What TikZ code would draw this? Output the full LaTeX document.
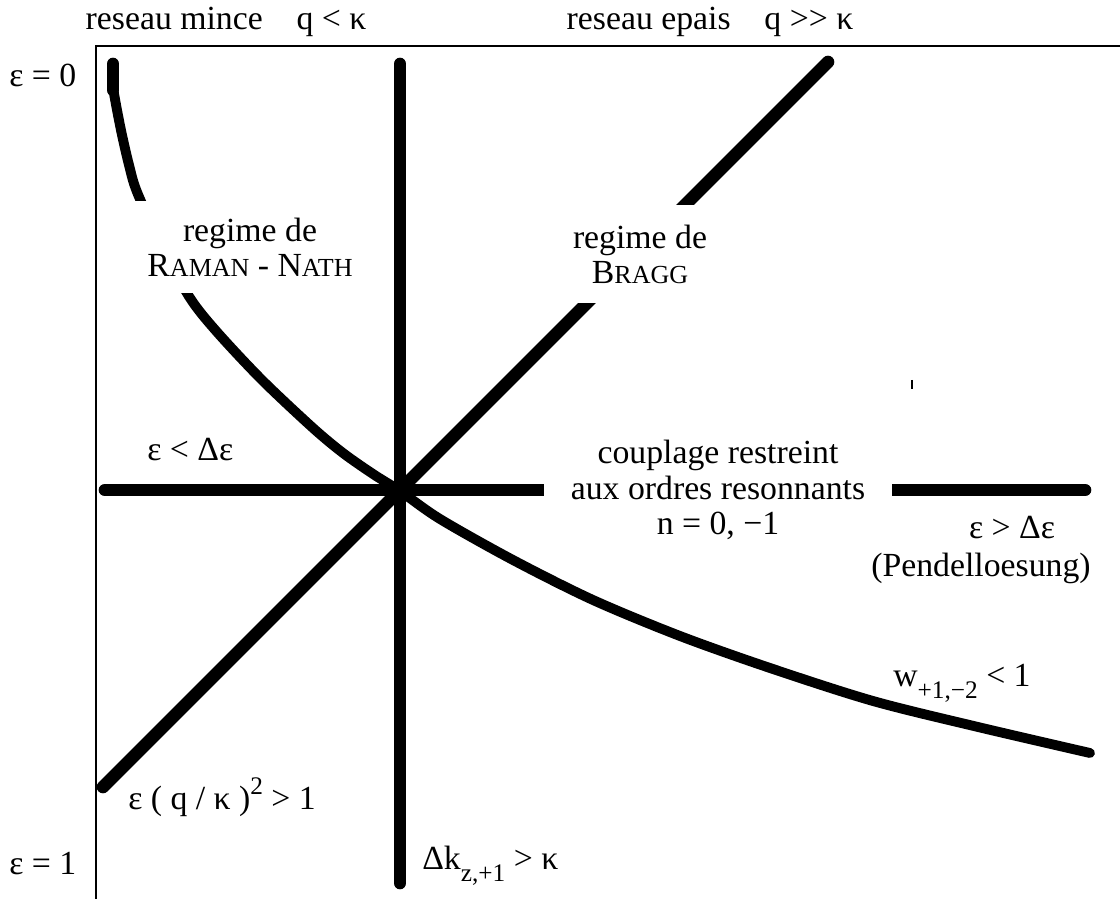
\documentclass[tikz,border=0pt]{standalone}
\usepackage{fontspec}
\setmainfont{Liberation Serif}
\usepackage{tikz}
\usetikzlibrary{positioning}
\tikzset{
  frameline/.style={line width=1.4pt},
  bound/.style={line width=9pt, line cap=round},
  curveline/.style={line width=7pt, line cap=round, line join=round},
  regimebox/.style={fill=white, align=center, inner xsep=18pt, inner ysep=12pt},
  couplebox/.style={fill=white, align=center, inner xsep=19pt, inner ysep=3pt},
  lbl/.style={inner sep=0pt, anchor=west},
  toplbl/.style={inner sep=0pt}
}
\newcommand{\petit}[1]{{\fontsize{18.5}{18.5}\selectfont #1}}
\newcommand{\lowr}[1]{\raisebox{-0.35em}{\fontsize{18}{18}\selectfont #1}}
\newcommand{\highr}[1]{\raisebox{0.45em}{\fontsize{18}{18}\selectfont #1}}

\begin{document}
\begin{tikzpicture}[x=0.025cm, y=-0.025cm, font=\fontsize{24}{25}\selectfont]
\useasboundingbox (0,0) rectangle (1120,899);

\coordinate (tl) at (96,46);
\coordinate (tr) at (1120,46);
\coordinate (bl) at (96,899);
\draw[frameline] (tr) -- (tl) -- (bl);

\coordinate (ctr) at (400,490);
\coordinate (vtop) at (400,64);
\coordinate (vbot) at (400,883);
\coordinate (hleft) at (105,490);
\coordinate (hright) at (1085,490);
\coordinate (dtop) at (828,62);
\coordinate (dbot) at (103,787);
\coordinate (ctop) at (113,64);
\coordinate (cstub) at (113,90);

\draw[bound] (vtop) -- (ctr) -- (vbot);
\draw[bound] (hleft) -- (ctr) -- (hright);
\draw[bound] (dbot) -- (ctr) -- (dtop);
\draw[bound] (ctop) -- (cstub);
\draw[curveline] plot[smooth, tension=0.5] coordinates {
  (113,88) (117,110) (122,135) (129,165) (137,192) (162,247) (190,298)
  (217,332) (262,380) (313,428) (343,453) (373,474) (400,491)
  (440,519) (513,560) (593,600) (680,636) (770,668) (873,701)
  (978,727) (1090,753)};
\draw[line width=1pt] (912,380) -- (912,389);

\node[regimebox] (raman) at (250,247) {regime de\\R\petit{AMAN} - N\petit{ATH}};
\node[regimebox, inner ysep=14pt] (bragg) at (640,254) {regime de\\B\petit{RAGG}};
\node[couplebox] (coupl) at (718,490)
  {couplage restreint\\aux ordres resonnants\\n = 0, −1};

\node[toplbl] (mince) at (226,22) {reseau mince\hspace{24pt}q < κ};
\node[toplbl] (epais) at (710,22) {reseau epais\hspace{24pt}q >{}> κ};
\node[lbl] (epszero) at (9,75) {ε = 0};
\node[lbl] (epsone) at (9,864) {ε = 1};
\node[lbl] (weak) at (147,450) {ε < Δε};
\node[toplbl] (strong) at (1012,528) {ε > Δε};
\node[toplbl] (pendel) at (981,568) {(Pendelloesung)};
\node[lbl] (wlabel) at (893,683) {w\lowr{+1,−2} < 1};
\node[lbl] (qlabel) at (128,797) {ε ( q / κ )\highr{2} > 1};
\node[lbl] (dklabel) at (422,866) {Δk\lowr{z,+1} > κ};
\end{tikzpicture}
\end{document}
